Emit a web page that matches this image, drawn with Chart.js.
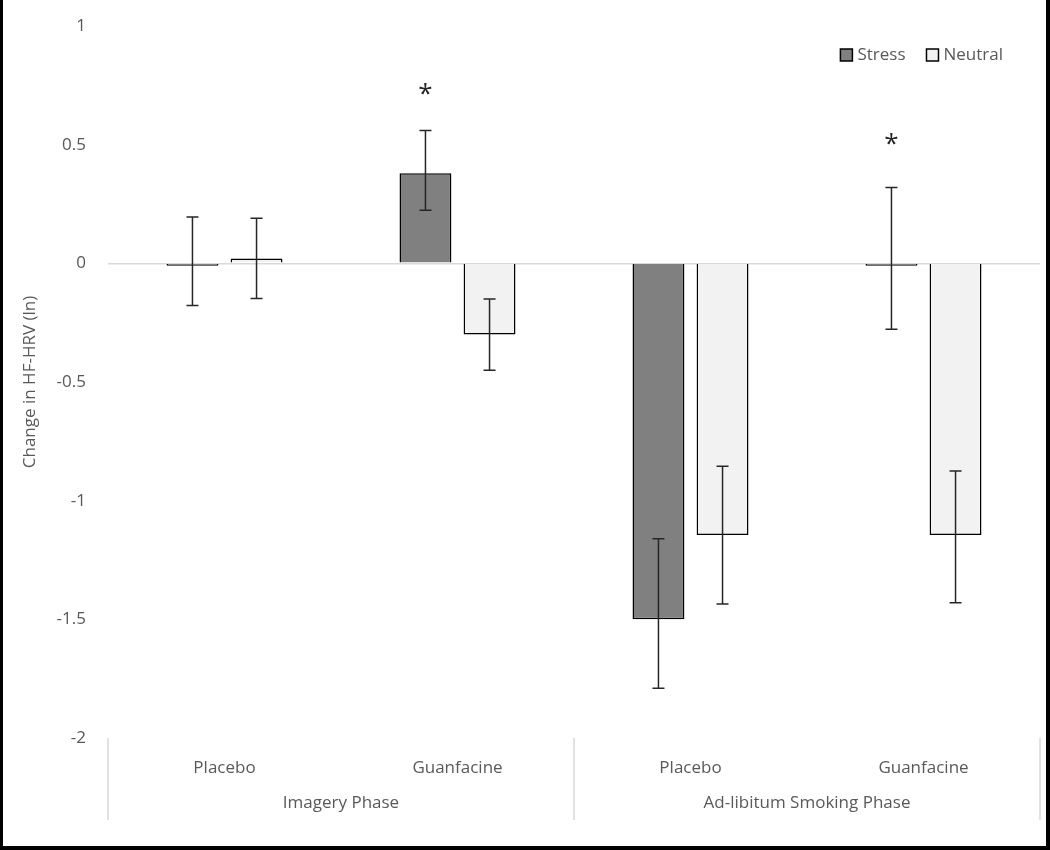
<!DOCTYPE html>
<html>
<head>
<meta charset="utf-8">
<script src="https://cdn.jsdelivr.net/npm/chart.js@4.4.1/dist/chart.umd.min.js"></script>
<style>
    html, body { margin: 0; padding: 0; background: #fff; }
    #wrap { width: 1050px; height: 850px; }
</style>
</head>
<body>
<div id="wrap"><canvas id="hrvChart" width="1050" height="850"></canvas></div>
<script>
// Chart data
const conditions = ['Placebo', 'Guanfacine', 'Placebo', 'Guanfacine'];
const phases = ['Imagery Phase', 'Ad-libitum Smoking Phase'];
const phaseSpan = [2, 2];
const stressValues = [-0.01, 0.38, -1.50, -0.01];
const stressErrUp = [0.205, 0.18, 0.34, 0.33];
const stressErrDown = [0.168, 0.156, 0.29, 0.268];
const neutralValues = [0.02, -0.30, -1.145, -1.145];
const neutralErrUp = [0.17, 0.15, 0.29, 0.27];
const neutralErrDown = [0.168, 0.15, 0.29, 0.285];
const stressStars = [null, 0.72, null, 0.51];
const yTicks = [1, 0.5, 0, -0.5, -1, -1.5, -2];

const textColor = '#595959';
const fontFamily = '"Open Sans", "Liberation Sans", sans-serif';

// Error bars for both datasets
const errorBarPlugin = {
    id: 'errorBars',
    afterDatasetsDraw(chart) {
        const ctx = chart.ctx;
        const y = chart.scales.y;
        const ups = [stressErrUp, neutralErrUp];
        const downs = [stressErrDown, neutralErrDown];
        ctx.save();
        ctx.strokeStyle = '#262626';
        ctx.lineWidth = 1.5;
        chart.data.datasets.forEach((ds, i) => {
            chart.getDatasetMeta(i).data.forEach((bar, j) => {
                const v = ds.data[j];
                const top = y.getPixelForValue(v + ups[i][j]);
                const bot = y.getPixelForValue(v - downs[i][j]);
                ctx.beginPath();
                ctx.moveTo(bar.x, top); ctx.lineTo(bar.x, bot);
                ctx.moveTo(bar.x - 6, top); ctx.lineTo(bar.x + 6, top);
                ctx.moveTo(bar.x - 6, bot); ctx.lineTo(bar.x + 6, bot);
                ctx.stroke();
            });
        });
        // significance stars
        ctx.fillStyle = '#262626';
        ctx.font = '26px ' + fontFamily;
        ctx.textAlign = 'center';
        ctx.textBaseline = 'middle';
        chart.getDatasetMeta(0).data.forEach((bar, j) => {
            if (stressStars[j] !== null) {
                ctx.fillText('*', bar.x, y.getPixelForValue(stressStars[j]) + 2);
            }
        });
        ctx.restore();
    }
};

// Phase group labels, separators, legend and frame
const groupPlugin = {
    id: 'groups',
    afterDraw(chart) {
        const ctx = chart.ctx;
        const x = chart.scales.x;
        const area = chart.chartArea;
        const half = (x.getPixelForValue(1) - x.getPixelForValue(0)) / 2;
        ctx.save();
        ctx.strokeStyle = '#d9d9d9';
        ctx.lineWidth = 1.5;
        let idx = 0;
        const edges = [x.getPixelForValue(0) - half];
        phases.forEach((p, k) => {
            idx += phaseSpan[k];
            edges.push(x.getPixelForValue(idx - 1) + half);
        });
        edges.forEach(e => {
            ctx.beginPath();
            ctx.moveTo(e, area.bottom);
            ctx.lineTo(e, area.bottom + 82);
            ctx.stroke();
        });
        ctx.fillStyle = textColor;
        ctx.font = '17px ' + fontFamily;
        ctx.textAlign = 'center';
        ctx.textBaseline = 'middle';
        phases.forEach((p, k) => {
            ctx.fillText(p, (edges[k] + edges[k + 1]) / 2, area.bottom + 65);
        });

        // legend, right aligned inside the plot area
        const box = 12, gapText = 5, gapItem = 21;
        const widths = chart.data.datasets.map(ds => ctx.measureText(ds.label).width);
        const total = widths.reduce((a, w) => a + box + gapText + w, 0) + gapItem * (widths.length - 1);
        let lx = area.right - 37 - total;
        const ly = area.top + 29;
        chart.data.datasets.forEach((ds, i) => {
            ctx.fillStyle = ds.backgroundColor;
            ctx.fillRect(lx, ly - box / 2, box, box);
            ctx.strokeStyle = '#000';
            ctx.lineWidth = 1.5;
            ctx.strokeRect(lx, ly - box / 2, box, box);
            ctx.fillStyle = textColor;
            ctx.textAlign = 'left';
            ctx.fillText(ds.label, lx + box + gapText, ly);
            lx += box + gapText + widths[i] + gapItem;
        });

        // frame
        ctx.fillStyle = '#000';
        ctx.fillRect(0, 0, 3, chart.height);
        ctx.fillRect(chart.width - 4, 0, 4, chart.height);
        ctx.fillRect(0, chart.height - 4, chart.width, 4);
        ctx.restore();
    }
};

new Chart(document.getElementById('hrvChart'), {
    type: 'bar',
    data: {
        labels: conditions,
        datasets: [
            {
                label: 'Stress',
                data: stressValues,
                backgroundColor: '#808080',
                borderColor: '#000',
                borderWidth: 1.5,
                categoryPercentage: 0.55,
                barPercentage: 0.81
            },
            {
                label: 'Neutral',
                data: neutralValues,
                backgroundColor: '#f2f2f2',
                borderColor: '#000',
                borderWidth: 1.5,
                categoryPercentage: 0.55,
                barPercentage: 0.81
            }
        ]
    },
    options: {
        responsive: false,
        animation: false,
        layout: { padding: { left: 16, right: 10, top: 26, bottom: 0 } },
        plugins: {
            legend: { display: false },
            tooltip: { enabled: false }
        },
        scales: {
            x: {
                grid: { display: false },
                border: { display: false },
                ticks: {
                    color: textColor,
                    font: { family: fontFamily, size: 17 },
                    padding: 12
                },
                afterFit(scale) { scale.height = 112; }
            },
            y: {
                min: -2,
                max: 1,
                afterBuildTicks(scale) {
                    scale.ticks = yTicks.map(v => ({ value: v }));
                },
                grid: {
                    drawTicks: false,
                    lineWidth: 1.5,
                    color: ctx => ctx.tick && ctx.tick.value === 0 ? '#d9d9d9' : 'rgba(0,0,0,0)'
                },
                border: { display: false },
                ticks: {
                    color: textColor,
                    font: { family: fontFamily, size: 17 },
                    padding: 22,
                    callback: v => String(v)
                },
                title: {
                    display: true,
                    text: 'Change in HF-HRV (ln)',
                    color: textColor,
                    font: { family: fontFamily, size: 17 },
                    padding: 4
                },
                afterFit(scale) {
                    scale.width = 92;
                    scale.paddingTop = 0;
                    scale.paddingBottom = 0;
                }
            }
        }
    },
    plugins: [errorBarPlugin, groupPlugin]
});
</script>
</body>
</html>
